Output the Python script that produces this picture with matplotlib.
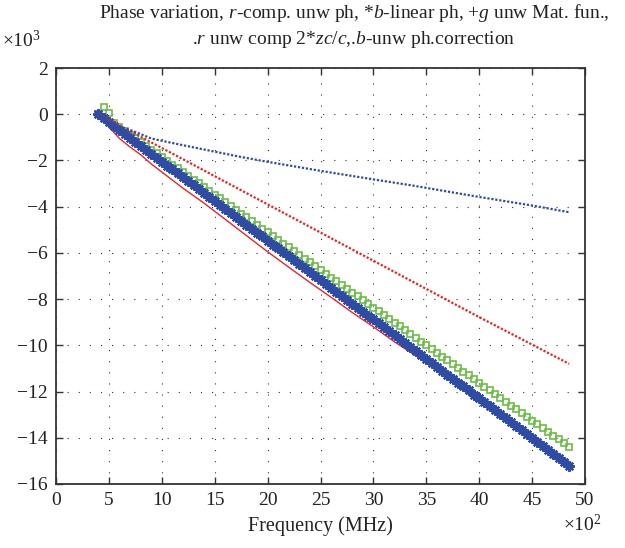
import numpy as np
import matplotlib.pyplot as plt

plt.rcParams['font.family'] = 'Liberation Serif'
plt.rcParams['mathtext.fontset'] = 'custom'
plt.rcParams['mathtext.rm'] = 'Liberation Serif'
plt.rcParams['mathtext.it'] = 'Liberation Serif:italic'
plt.rcParams['axes.unicode_minus'] = True

# frequency in units of 1e2 MHz, phase in units of 1e3
freq = [4.0, 4.5, 5.0, 5.5, 6.0, 6.5, 7.0, 7.5, 8.0, 8.5, 9.0, 9.5,
        10.0, 10.5, 11.0, 11.5, 12.0, 12.5, 13.0, 13.5, 14.0, 14.5, 15.0, 15.5,
        16.0, 16.5, 17.0, 17.5, 18.0, 18.5, 19.0, 19.5, 20.0, 20.5, 21.0, 21.5,
        22.0, 22.5, 23.0, 23.5, 24.0, 24.5, 25.0, 25.5, 26.0, 26.5, 27.0, 27.5,
        28.0, 28.5, 29.0, 29.5, 30.0, 30.5, 31.0, 31.5, 32.0, 32.5, 33.0, 33.5,
        34.0, 34.5, 35.0, 35.5, 36.0, 36.5, 37.0, 37.5, 38.0, 38.5, 39.0, 39.5,
        40.0, 40.5, 41.0, 41.5, 42.0, 42.5, 43.0, 43.5, 44.0, 44.5, 45.0, 45.5,
        46.0, 46.5, 47.0, 47.5, 48.0, 48.5]

linear_ph = [0.00, -0.17, -0.34, -0.51, -0.68, -0.85, -1.02, -1.20, -1.37, -1.54, -1.71, -1.88,
             -2.05, -2.22, -2.39, -2.56, -2.73, -2.90, -3.07, -3.24, -3.42, -3.59, -3.76, -3.93,
             -4.10, -4.27, -4.44, -4.61, -4.78, -4.95, -5.12, -5.29, -5.47, -5.64, -5.81, -5.98,
             -6.15, -6.32, -6.49, -6.66, -6.83, -7.00, -7.17, -7.34, -7.51, -7.69, -7.86, -8.03,
             -8.20, -8.37, -8.54, -8.71, -8.88, -9.05, -9.22, -9.39, -9.56, -9.73, -9.91, -10.08,
             -10.25, -10.42, -10.59, -10.76, -10.93, -11.10, -11.27, -11.44, -11.61, -11.78, -11.95, -12.13,
             -12.30, -12.47, -12.64, -12.81, -12.98, -13.15, -13.32, -13.49, -13.66, -13.83, -14.00, -14.17,
             -14.35, -14.52, -14.69, -14.86, -15.03, -15.20]

mat_fun = [0.00, 0.30, 0.05, -0.39, -0.55, -0.71, -0.88, -1.04, -1.20, -1.36, -1.53, -1.69,
           -1.85, -2.02, -2.18, -2.34, -2.50, -2.67, -2.83, -2.99, -3.16, -3.32, -3.48, -3.64,
           -3.81, -3.97, -4.13, -4.30, -4.46, -4.62, -4.79, -4.95, -5.11, -5.27, -5.44, -5.60,
           -5.76, -5.93, -6.09, -6.25, -6.41, -6.58, -6.74, -6.90, -7.07, -7.23, -7.39, -7.56,
           -7.72, -7.88, -8.04, -8.21, -8.37, -8.53, -8.70, -8.86, -9.02, -9.18, -9.35, -9.51,
           -9.67, -9.84, -10.00, -10.16, -10.33, -10.49, -10.65, -10.81, -10.98, -11.14, -11.30, -11.47,
           -11.63, -11.79, -11.95, -12.12, -12.28, -12.44, -12.61, -12.77, -12.93, -13.10, -13.26, -13.42,
           -13.58, -13.75, -13.91, -14.07, -14.24, -14.40]

# compensated unwrapped phase (solid red)
freq_comp = [4.0, 5.0, 6.0, 7.0, 8.0, 9.0, 10.0, 12.0, 14.0, 16.0, 18.0, 20.0, 22.0,
             24.0, 26.0, 28.0, 30.0, 32.0, 34.0, 36.0, 38.0, 40.0, 42.0, 44.0, 46.0, 48.5]
comp_ph = [0.00, -0.55, -1.05, -1.42, -1.75, -2.15, -2.50, -3.20, -3.85, -4.55, -5.25, -5.95, -6.62,
           -7.28, -7.92, -8.58, -9.20, -9.85, -10.45, -11.08, -11.75, -12.42, -13.10, -13.75, -14.42, -15.18]

# unw comp 2*zc/c (red dots)
freq_zc = [4.0, 10.0, 20.0, 30.0, 40.0, 48.5]
zc_ph = [0.00, -1.46, -3.90, -6.34, -8.78, -10.80]

# unw ph correction (blue dots)
freq_corr = [4.0, 5.0, 6.0, 7.0, 8.0, 9.0, 10.0, 12.0, 15.0, 17.5, 20.0, 25.0,
             30.0, 33.5, 40.0, 45.0, 48.5]
corr_ph = [0.00, -0.30, -0.55, -0.68, -0.86, -1.05, -1.15, -1.34, -1.62, -1.85, -2.06, -2.45,
           -2.82, -3.07, -3.58, -3.95, -4.24]

red = '#ec2327'
blue = '#2e4ca6'
green = '#6cbd45'
txt = '#222222'

fig = plt.figure(figsize=(6.25, 5.48), dpi=100)
ax = fig.add_axes([56/625, 1 - 484/548, 529/625, 416/548])

ax.plot(freq_comp, comp_ph, '-', color=red, lw=1.0)
ax.plot(freq, mat_fun, 's', color=green, mfc='none', ms=5, mew=1.2)
ax.plot(freq, linear_ph, '-', color=blue, lw=5.5, alpha=0.85, solid_capstyle='round')
ax.plot(freq, linear_ph, ls='none', marker=(8, 2, 0), color=blue, ms=7.5, mew=1.6)
ax.plot(freq_zc, zc_ph, color=red, lw=1.6, ls=(0, (1, 0.8)))
ax.plot(freq_corr, corr_ph, color=blue, lw=1.6, ls=(0, (1, 0.8)))

ax.set_xlim(0, 50)
ax.set_ylim(-16, 2)
ax.set_xticks(np.arange(0, 51, 5))
ax.set_yticks(np.arange(-16, 3, 2))
ax.tick_params(direction='in', top=True, right=True, length=5, width=1,
               labelsize=14, colors='#333333', labelcolor=txt, pad=6)
ax.grid(True, color='#333333', lw=0.8, ls=(0, (1, 9)))
for s in ax.spines.values():
    s.set_linewidth(1.3)
    s.set_color('#333333')

ax.set_xlabel('Frequency (MHz)', fontsize=14.5, color=txt, labelpad=5)

fig.text(354/625, 1 - 13/548,
         'Phase variation, $r$-comp. unw ph, *$b$-linear ph, +$g$ unw Mat. fun.,',
         ha='center', va='center', fontsize=14, color=txt)
fig.text(354/625, 1 - 39/548,
         '.$r$ unw comp 2*$zc/c$,.$b$-unw ph.correction',
         ha='center', va='center', fontsize=14, color=txt)
fig.text(2/625, 1 - 40/548, r'×$\mathregular{10^3}$', ha='left', va='center',
         fontsize=14, color=txt)
fig.text(582/625, 1 - 524/548, r'×$\mathregular{10^2}$', ha='center', va='center',
         fontsize=14, color=txt)

fig.savefig('out.png', dpi=100)
